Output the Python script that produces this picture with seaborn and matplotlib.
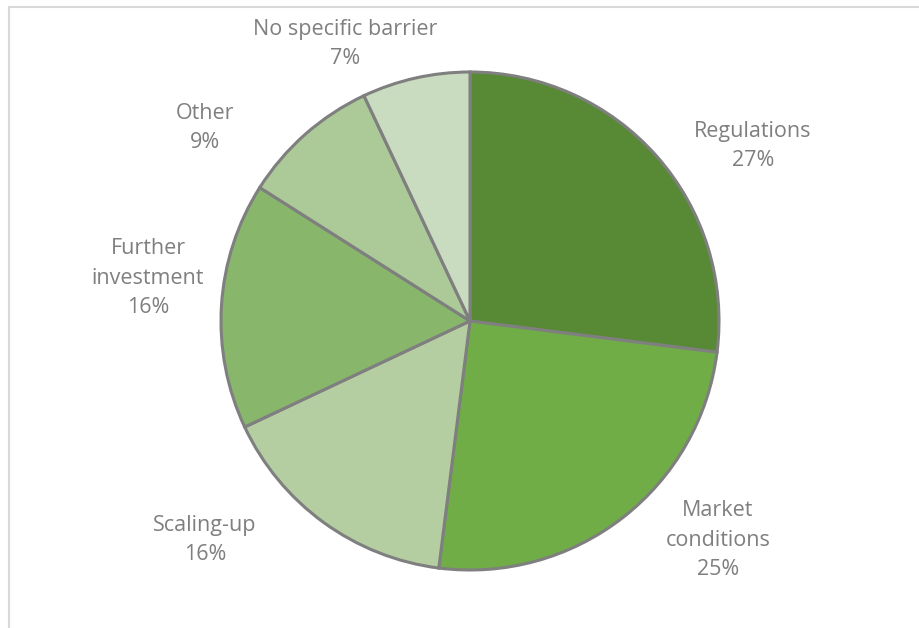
import matplotlib
matplotlib.use("Agg")
import matplotlib.pyplot as plt
import seaborn as sns

categories = ["Regulations", "Market\nconditions", "Scaling-up",
              "Further\ninvestment", "Other", "No specific barrier"]
shares = [27, 25, 16, 16, 9, 7]
colors = ["#588A36", "#70AD47", "#B4CEA2", "#88B76C", "#ABCA98", "#C9DCBF"]

# where Excel put the data labels (pixels, top-left origin)
label_pos = [(753, 146), (718, 540), (205, 540), (148, 278), (205, 128), (345, 44)]

sns.set_theme(style="white")
plt.rcParams['font.family'] = ['Open Sans', 'DejaVu Sans']

W, H = 919, 628
fig = plt.figure(figsize=(W / 100, H / 100), dpi=100)
ax = fig.add_axes([0, 0, 1, 1])

labels = [f"{c}\n{v}%" for c, v in zip(categories, shares)]
wedges, texts = ax.pie(shares, labels=labels, colors=colors, startangle=90,
                       counterclock=False, center=(470, H - 321), radius=249,
                       frame=True,
                       wedgeprops=dict(edgecolor="#7F7F7F", linewidth=2.2),
                       textprops=dict(color="#7F7F7F", fontsize=15.5,
                                      linespacing=1.55))
for t, (x, y) in zip(texts, label_pos):
    t.set_position((x, H - y))
    t.set_ha('center')
    t.set_va('center')
ax.set_xlim(0, W)
ax.set_ylim(0, H)
ax.set_aspect('equal')
ax.axis('off')

# light chart-area border
fig.add_artist(plt.Line2D([8.5 / W, 1], [1 - 6.5 / H, 1 - 6.5 / H],
                          transform=fig.transFigure, color="#D9D9D9", lw=1.5))
fig.add_artist(plt.Line2D([8.5 / W, 8.5 / W], [0, 1 - 6.5 / H],
                          transform=fig.transFigure, color="#D9D9D9", lw=1.5))

fig.savefig("out.png", dpi=100, facecolor="white")
